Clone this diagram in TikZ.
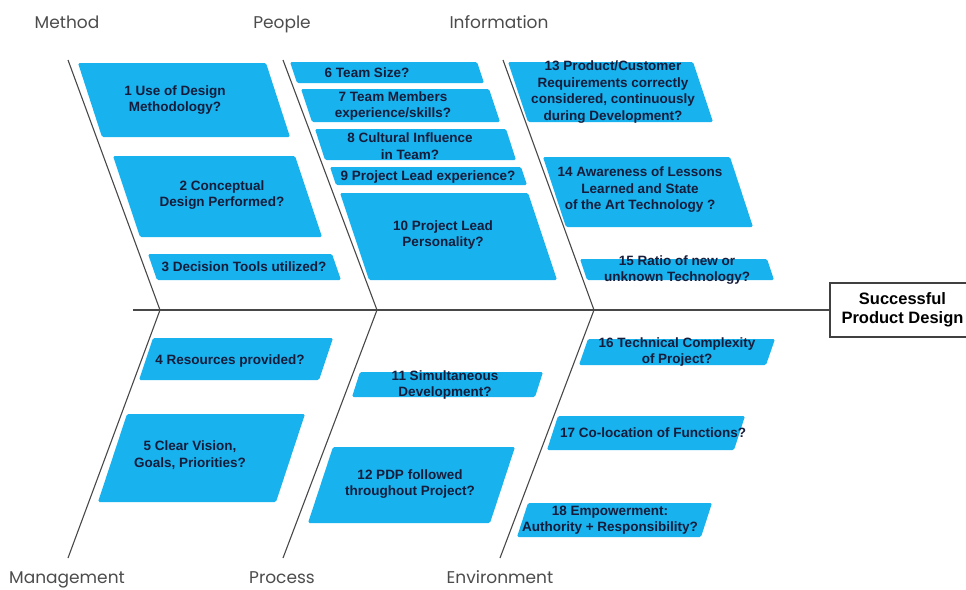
\documentclass[tikz,border=0pt]{standalone}
\usepackage{fontspec}
\setmainfont{Liberation Sans}
\newfontfamily\bonefont{Poppins}
\usepackage{tikz}
\usepackage{xcolor}

\definecolor{causeblue}{RGB}{24,178,238}
\definecolor{causeink}{RGB}{22,28,58}
\definecolor{boneink}{RGB}{72,72,72}

\tikzset{
  cause/.style={fill=causeblue, rounded corners=1.5pt},
  causetext/.style={font=\bfseries\fontsize{13.5}{16.5}\selectfont, text=causeink, align=center, inner sep=0pt},
  bone/.style={draw=boneink, line width=1.1pt},
  bonelabel/.style={font=\bonefont\fontsize{17}{20}\selectfont, text=black!70, inner sep=0pt, anchor=base},
  effect/.style={draw=black!75, line width=1.2pt, fill=white, font=\bfseries\fontsize{16.5}{19}\selectfont, align=center, minimum width=145pt, minimum height=54pt, inner sep=0pt},
}

\begin{document}
\begin{tikzpicture}[x=1pt,y=-1pt]
\useasboundingbox (0,0) rectangle (966,589);

% upper causes: method
\fill[cause] (78,63) -- (266,63) -- (290,137) -- (102,137) -- cycle;
\node[causetext] (c1) at (175,100) {1 Use of Design\\Methodology?};
\fill[cause] (113,156) -- (295,156) -- (322,237) -- (140,237) -- cycle;
\node[causetext] (c2) at (222,195) {2 Conceptual\\Design Performed?};
\fill[cause] (148,254) -- (332,254) -- (341,280) -- (157,280) -- cycle;
\node[causetext] (c3) at (244,267) {3 Decision Tools utilized?};

% upper causes: people
\fill[cause] (290,62) -- (477,62) -- (484,83) -- (297,83) -- cycle;
\node[causetext] (c6) at (367,73) {6 Team Size?};
\fill[cause] (301,89) -- (489,89) -- (500,122) -- (312,122) -- cycle;
\node[causetext] (c7) at (393,106) {7 Team Members\\experience/skills?};
\fill[cause] (315,129) -- (506,129) -- (516,160) -- (325,160) -- cycle;
\node[causetext] (c8) at (410,146) {8 Cultural Influence\\in Team?};
\fill[cause] (330,167) -- (521,167) -- (527,185) -- (336,185) -- cycle;
\node[causetext] (c9) at (428,177) {9 Project Lead experience?};
\fill[cause] (340,193) -- (528,193) -- (557,280) -- (369,280) -- cycle;
\node[causetext] (c10) at (443,235) {10 Project Lead\\Personality?};

% upper causes: information
\fill[cause] (508,62) -- (693,62) -- (713,122) -- (528,122) -- cycle;
\node[causetext] (c13) at (613,92) {13 Product/Customer\\Requirements correctly\\considered, continuously\\during Development?};
\fill[cause] (543,157) -- (730,157) -- (753,227) -- (566,227) -- cycle;
\node[causetext] (c14) at (640,190) {14 Awareness of Lessons\\Learned and State\\of the Art Technology ?};
\fill[cause] (580,259) -- (767,259) -- (774,280) -- (587,280) -- cycle;
\node[causetext] (c15) at (677,270) {15 Ratio of new or\\unknown Technology?};

% lower causes: management
\fill[cause] (153,338) -- (333,338) -- (319,380) -- (139,380) -- cycle;
\node[causetext] (c4) at (230,361) {4 Resources provided?};
\fill[cause] (127,414) -- (305,414) -- (276,502) -- (98,502) -- cycle;
\node[causetext] (c5) at (190,455) {5 Clear Vision,\\Goals, Priorities?};

% lower causes: process
\fill[cause] (360,372) -- (543,372) -- (535,397) -- (352,397) -- cycle;
\node[causetext] (c11) at (445,385) {11 Simultaneous\\Development?};
\fill[cause] (333,447) -- (515,447) -- (490,523) -- (308,523) -- cycle;
\node[causetext] (c12) at (410,484) {12 PDP followed\\throughout Project?};

% lower causes: environment
\fill[cause] (588,339) -- (775,339) -- (766,365) -- (579,365) -- cycle;
\node[causetext] (c16) at (677,352) {16 Technical Complexity\\of Project?};
\fill[cause] (558,416) -- (745,416) -- (734,450) -- (547,450) -- cycle;
\node[causetext] (c17) at (653,433) {17 Co-location of Functions?};
\fill[cause] (528,503) -- (712,503) -- (701,537) -- (517,537) -- cycle;
\node[causetext] (c18) at (610,520) {18 Empowerment:\\Authority + Responsibility?};

% bones
\coordinate (tail) at (133,310);
\coordinate (m0) at (68,60);
\coordinate (m1) at (160,310);
\coordinate (m2) at (68,558);
\coordinate (p0) at (283,60);
\coordinate (p1) at (377,310);
\coordinate (p2) at (283,558);
\coordinate (i0) at (503,60);
\coordinate (i1) at (594,310);
\coordinate (i2) at (500,558);
\draw[bone] (m0) -- (m1) -- (m2);
\draw[bone] (p0) -- (p1) -- (p2);
\draw[bone] (i0) -- (i1) -- (i2);

% head and spine
\node[effect] (head) at (902.5,310) {Successful\\Product Design};
\draw[bone, line width=1.4pt] (tail) -- (head.west);

% category labels
\node[bonelabel] (method) at (67,28) {Method};
\node[bonelabel] (people) at (282,28) {People};
\node[bonelabel] (information) at (499,28) {Information};
\node[bonelabel] (management) at (67,583) {Management};
\node[bonelabel] (process) at (282,583) {Process};
\node[bonelabel] (environment) at (500,583) {Environment};
\end{tikzpicture}
\end{document}
